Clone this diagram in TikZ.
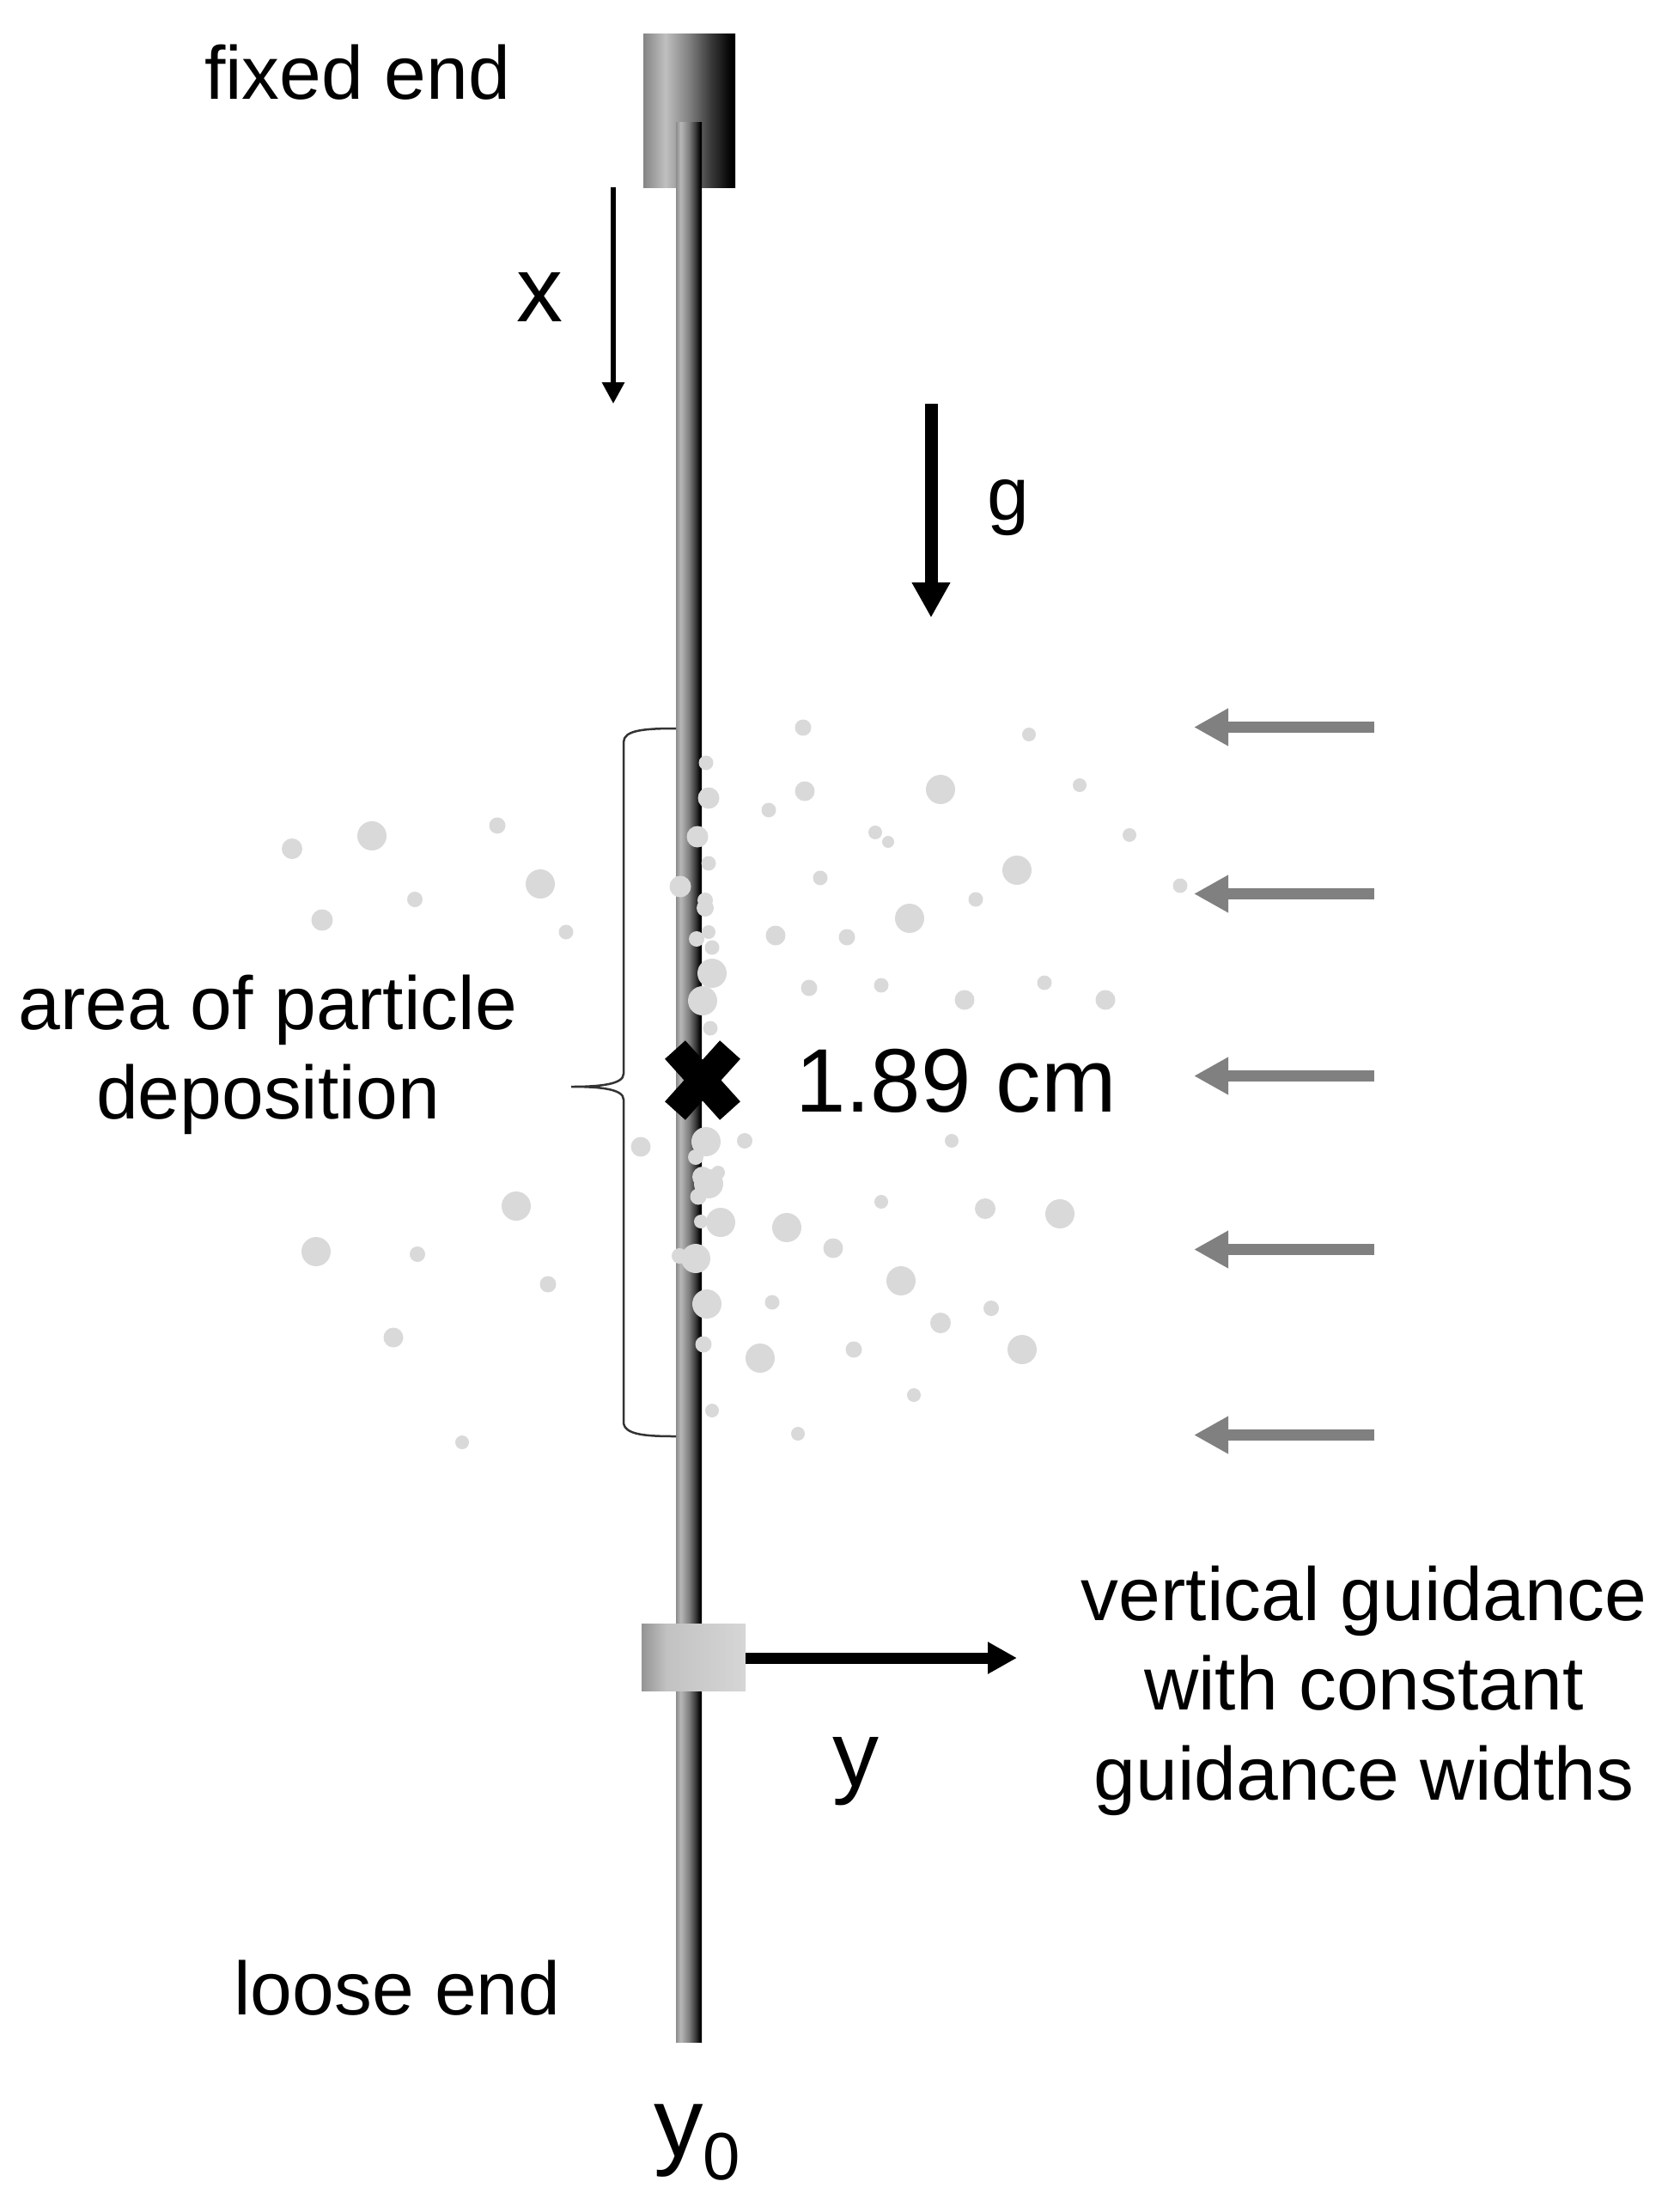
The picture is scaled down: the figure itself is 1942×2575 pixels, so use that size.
\documentclass[tikz,border=0pt]{standalone}
\usepackage{fontspec}
\setmainfont{Liberation Sans}
\usetikzlibrary{arrows.meta}
\pgfdeclarehorizontalshading{rodshade}{100bp}{rgb(0bp)=(.55,.55,.55); rgb(25bp)=(.55,.55,.55); rgb(34bp)=(.72,.72,.72); rgb(50bp)=(.5,.5,.5); rgb(62bp)=(.25,.25,.25); rgb(72bp)=(0,0,0); rgb(100bp)=(0,0,0)}
\pgfdeclarehorizontalshading{blockshade}{100bp}{rgb(0bp)=(.52,.52,.52); rgb(25bp)=(.52,.52,.52); rgb(37bp)=(.75,.75,.75); rgb(50bp)=(.5,.5,.5); rgb(62bp)=(.22,.22,.22); rgb(73bp)=(0,0,0); rgb(100bp)=(0,0,0)}
\pgfdeclarehorizontalshading{slidershade}{100bp}{rgb(0bp)=(.58,.58,.58); rgb(25bp)=(.58,.58,.58); rgb(37bp)=(.76,.76,.76); rgb(75bp)=(.84,.84,.84); rgb(100bp)=(.84,.84,.84)}
\tikzset{
  lbl/.style={anchor=base,inner sep=0pt,align=center,font=\fontsize{87.7}{104}\selectfont},
  bigl/.style={anchor=base,inner sep=0pt,font=\fontsize{108}{120}\selectfont},
  shadedbox/.style={rectangle,inner sep=0pt,outer sep=0pt,draw=none,shade},
  particle/.style={fill=black!15},
  thinarrow/.style={line width=6pt,-{Triangle[length=25pt,width=25pt]}},
  thickarrow/.style={line width=15pt,-{Triangle[length=41pt,width=42pt]}},
  windarrow/.style={line width=13pt,draw=black!50,-{Triangle[length=40pt,width=41pt]}},
  bracelike/.style={line width=2.5pt,draw=black!80},
}
\begin{document}
\begin{tikzpicture}[x=1pt,y=-1pt]
\useasboundingbox (0,0) rectangle (1942,2575);
\node[shadedbox,shading=blockshade,minimum width=107pt,minimum height=179pt] (block) at (802.5,128.5) {};
\node[shadedbox,shading=rodshade,minimum width=30pt,minimum height=2235pt] (rod) at (802,1259.5) {};
% particles
\foreach \x/\y/\r in {
340/988/12,433/973/17,579/961/9.5,629/1029/17,483/1047/9,375/1071/12.5,659/1085/8.5,
822/888/8.5,825/929/12.5,812/974/12.5,825/1005/8.5,792/1032/12.5,821/1048/9,821/1057/10,825/1085/8,811/1093/9,829/1103/8.5,829/1133/17,818/1165/17,827/1197/8.5,
935/847/9.5,937/921/11.5,895/943/8.5,955/1022/8.5,903/1089/11.5,986/1091/9.5,942/1150/9.5,
746/1335/11.5,822/1329/17,810/1347/9,867/1328/9,836/1365/8,825/1378/17,818/1370/12,813/1393/9.5,839/1423/17,816/1422/8,810/1465/17,791/1462/9,823/1518/17,819/1565/9.5,829/1642/8,929/1669/8,538/1679/8,458/1557/11.5,638/1495/9.5,486/1460/9,368/1457/17,601/1404/17,916/1429/17,970/1453/11.5,899/1516/8.5,885/1581/17,994/1571/9.5,
1095/919/17,1198/855/8,1257/914/8,1019/969/8,1034/980/7,1315/972/8,1184/1013/17,1136/1047/8.5,1059/1069/17,1374/1031/8.5,1026/1147/8.5,1216/1144/8.5,1123/1164/11.5,1287/1164/11.5,1108/1328/8,1026/1399/8,1147/1407/12,1234/1413/17,1049/1491/17,1154/1523/9,1095/1540/12,1190/1571/17,1064/1624/8}
  \fill[particle] (\x,\y) circle (\r);
\node[shadedbox,shading=slidershade,minimum width=121pt,minimum height=78pt] (slider) at (807.5,1929) {};
% cross
\coordinate (c1) at (786,1222);\coordinate (c2) at (850,1293);
\coordinate (c3) at (850,1222);\coordinate (c4) at (786,1293);
\draw[line width=32pt] (c1) -- (c2) (c3) -- (c4);
% brace
\coordinate (bt) at (787,848);\coordinate (bb) at (787,1672);\coordinate (btip) at (665,1265);
\draw[bracelike] (bt) .. controls (750,848) and (726,850) .. (726,864) -- (726,1250)
  .. controls (726,1262) and (700,1265) .. (btip)
  .. controls (700,1265) and (726,1268) .. (726,1280) -- (726,1655)
  .. controls (726,1670) and (750,1672) .. (bb);
% arrows
\coordinate (xa) at (714,218);\coordinate (xb) at (714,470);
\draw[thinarrow] (xa) -- (xb);
\coordinate (ga) at (1084,470);\coordinate (gb) at (1084,719);
\draw[thickarrow] (ga) -- (gb);
\foreach \n/\yy in {a/846.5,b/1040.5,c/1252.5,d/1454.5,e/1670.5}{
  \coordinate (w\n1) at (1600,\yy);\coordinate (w\n2) at (1390,\yy);
  \draw[windarrow] (w\n1) -- (w\n2);
}
\coordinate (ya) at (1184,1930);
\draw[line width=13pt,-{Triangle[length=34pt,width=35pt]}] (slider.east |- ya) -- (ya);
% labels
\node[lbl] (tfixed) at (416,115) {fixed end};
\node[bigl] (tx) at (628.5,374) {x};
\node[lbl] (tg) at (1173.5,605) {g};
\node[lbl] (tarea) at (312,1198) {area of particle};
\node[lbl] (tdep) at (312,1302) {deposition};
\node[anchor=base west,inner sep=0pt,font=\fontsize{105}{120}\selectfont] (tcm) at (926,1294) {1.89 cm};
\node[lbl] (tv1) at (1588,1886) {vertical guidance};
\node[lbl] (tv2) at (1588,1990) {with constant};
\node[lbl] (tv3) at (1588,2095) {guidance widths};
\node[bigl] (ty) at (996,2079) {y};
\node[lbl] (tloose) at (462.5,2345) {loose end};
\node[anchor=base west,inner sep=0pt,font=\fontsize{115}{120}\selectfont] (ty0) at (761,2510) {y\raisebox{-27pt}{\fontsize{78}{80}\selectfont 0}};
\end{tikzpicture}
\end{document}
